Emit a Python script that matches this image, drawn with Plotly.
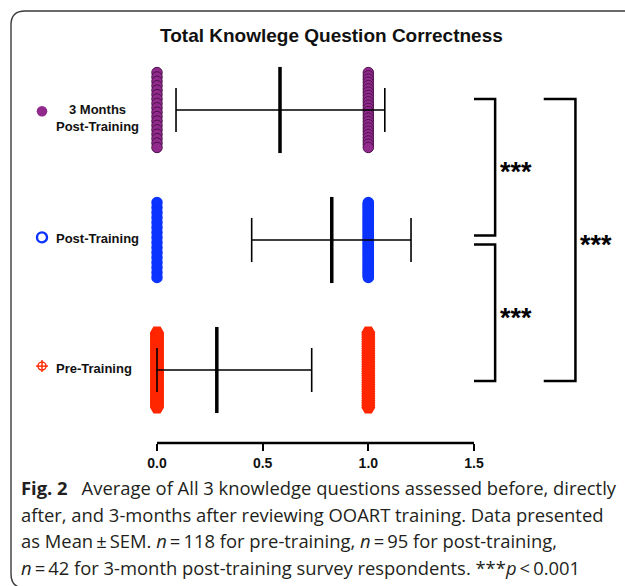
import numpy as np
import plotly.graph_objects as go

# ---------------------------------------------------------------- data
groups = ["Pre-Training", "Post-Training", "3 Months<br>Post-Training"]
row_pos = [1, 2, 3]
score_levels = [0.0, 1.0]
n_zero = [84, 16, 18]          # respondents averaging 0 correct
n_one = [34, 79, 24]           # respondents averaging 1 correct
means = [0.283, 0.827, 0.582]
err_lo = [0.0, 0.448, 0.090]
err_hi = [0.732, 1.202, 1.078]
tick_vals = [0.0, 0.5, 1.0, 1.5]
tick_text = ["0.0", "0.5", "1.0", "1.5"]
# (upper row, lower row, label, bracket x-left, bracket x-right) in x units
comparisons = [
    (3, 2, "***", 1.50, 1.60),
    (2, 1, "***", 1.50, 1.60),
    (3, 1, "***", 1.83, 1.98),
]

# ---------------------------------------------------------------- styles
W, H = 625, 586
FONT = "Liberation Sans, Arial, sans-serif"
CAP_FONT = "Open Sans, Noto Sans, sans-serif"
colors = ["#FF2600", "#0B33FF", "#922A8E"]
X_RANGE = [-0.1, 1.6]
X_DOM = [135.87 / W, 495.13 / W]
Y_RANGE = [0.4385, 3.3846]
Y_DOM = [1 - 443 / H, 1 - 60 / H]
BAND = 0.288  # half-height of each stacked column, y units


def xpaper(x):
    return X_DOM[0] + (x - X_RANGE[0]) / (X_RANGE[1] - X_RANGE[0]) * (X_DOM[1] - X_DOM[0])


col_markers = [
    dict(symbol="hexagon2", size=14, color=colors[0], line=dict(width=0)),
    dict(symbol="circle-open", size=6.5, color=colors[1], line=dict(width=5)),
    dict(symbol="circle", size=10.5, color=colors[2], line=dict(width=1, color="#4E124B")),
]

fig = go.Figure()

# stacked individual responses at each score level
for i, (row, nz, no) in enumerate(zip(row_pos, n_zero, n_one)):
    for level, k in zip(score_levels, (nz, no)):
        ys = row + np.linspace(BAND, -BAND, k)
        fig.add_trace(go.Scatter(
            x=[level] * k, y=ys, mode="markers",
            marker=col_markers[i], cliponaxis=False,
            showlegend=False, hoverinfo="skip",
        ))

# mean line with error bars
fig.add_trace(go.Scatter(
    x=means, y=row_pos, mode="markers",
    marker=dict(symbol="line-ns", size=61.5, color="black",
                line=dict(width=3.5, color="black")),
    error_x=dict(type="data", symmetric=False,
                 array=[h - m for h, m in zip(err_hi, means)],
                 arrayminus=[m - l for m, l in zip(means, err_lo)],
                 color="black", thickness=1.6, width=22),
    cliponaxis=False, showlegend=False,
))

shapes = []
annotations = []

# frame around the figure panel
fx = lambda p: p / W
fy = lambda p: 1 - p / H
frame = (f"M {fx(640)},{fy(11)} L {fx(25)},{fy(11)} Q {fx(11)},{fy(11)} {fx(11)},{fy(25)} "
         f"L {fx(11)},{fy(574)} Q {fx(11)},{fy(588)} {fx(25)},{fy(588)} L {fx(640)},{fy(588)}")
shapes.append(dict(type="path", xref="paper", yref="paper", path=frame,
                   line=dict(color="#3a3a3a", width=1.4)))

# x axis line from first to last tick
shapes.append(dict(type="line", xref="x", yref="paper",
                   x0=tick_vals[0], x1=tick_vals[-1], y0=Y_DOM[0], y1=Y_DOM[0],
                   line=dict(color="black", width=2.5)))

# significance brackets
for top, bot, label, xl, xr in comparisons:
    gap = 0.035 if abs(top - bot) == 1 else 0.0
    y_top = top + 0.085 if top == 3 else top - gap
    y_bot = bot - 0.085 if bot == 1 else bot + gap
    path = (f"M {xpaper(xl)},{y_top} L {xpaper(xr)},{y_top} "
            f"L {xpaper(xr)},{y_bot} L {xpaper(xl)},{y_bot}")
    shapes.append(dict(type="path", xref="paper", yref="y", path=path,
                       line=dict(color="black", width=2.5)))
    annotations.append(dict(
        x=xpaper(xr) + 3 / W, y=(y_top + y_bot) / 2 - 0.04, xref="paper", yref="y",
        text=f"<b>{label}</b>", showarrow=False, xanchor="left", yanchor="middle",
        font=dict(family=FONT, size=27, color="black"),
    ))

# row labels with their symbols
sym_x = 42 / W
sym_dy = [0.03, 0.02, -0.01]
for i, row in enumerate(row_pos):
    yc = row + sym_dy[i]
    if i == 2:
        shapes.append(dict(type="circle", xref="paper", yref="y", xsizemode="pixel",
                           ysizemode="pixel", xanchor=sym_x, yanchor=yc,
                           x0=-5.3, x1=5.3, y0=-5.3, y1=5.3,
                           fillcolor=colors[2], line=dict(width=0)))
    elif i == 1:
        shapes.append(dict(type="circle", xref="paper", yref="y", xsizemode="pixel",
                           ysizemode="pixel", xanchor=sym_x, yanchor=yc,
                           x0=-5, x1=5, y0=-5, y1=5,
                           line=dict(color=colors[1], width=2.4)))
    else:
        shapes.append(dict(type="circle", xref="paper", yref="y", xsizemode="pixel",
                           ysizemode="pixel", xanchor=sym_x, yanchor=yc,
                           x0=-4, x1=4, y0=-4, y1=4,
                           line=dict(color=colors[0], width=1.4)))
        for seg in ((-6, 6, 0, 0), (0, 0, -6, 6)):
            shapes.append(dict(type="line", xref="paper", yref="y", xsizemode="pixel",
                               ysizemode="pixel", xanchor=sym_x, yanchor=yc,
                               x0=seg[0], x1=seg[1], y0=seg[2], y1=seg[3],
                               line=dict(color=colors[0], width=1.4)))

label_dy = [0.008, 0.015, -0.06]
for i, (row, name) in enumerate(zip(row_pos, groups)):
    annotations.append(dict(
        x=54 / W, y=row + label_dy[i], xref="paper", yref="y",
        text=f"<b>{name}</b>", showarrow=False, xanchor="left", yanchor="middle",
        align="center", font=dict(family=FONT, size=13, color="#111111"),
    ))

# chart title
annotations.append(dict(
    x=331 / W, y=1 - 35 / H, xref="paper", yref="paper",
    text="<b>Total Knowlege Question Correctness</b>", showarrow=False,
    xanchor="center", yanchor="middle",
    font=dict(family=FONT, size=19, color="#111111"),
))

# figure caption
cap_lines = [
    "<b>Fig. 2</b>\u2002 Average of All 3 knowledge questions assessed before, directly",
    "after, and 3-months after reviewing OOART training. Data presented",
    "as Mean\u2009\u00b1\u2009SEM. <i>n</i>\u2009=\u2009118 for pre-training, "
    "<i>n</i>\u2009=\u200995 for post-training,",
    "<i>n</i>\u2009=\u200942 for 3-month post-training survey respondents. "
    "***<i>p</i>\u2009&lt;\u20090.001",
]
cap_y = [487, 514, 540.5, 567]
for txt, yp in zip(cap_lines, cap_y):
    annotations.append(dict(
        x=19 / W, y=1 - yp / H, xref="paper", yref="paper", text=txt,
        showarrow=False, xanchor="left", yanchor="middle",
        font=dict(family=CAP_FONT, size=18.4, color="#231F20"),
    ))

fig.update_layout(
    width=W, height=H, autosize=False,
    margin=dict(l=0, r=0, t=0, b=0),
    paper_bgcolor="white", plot_bgcolor="white",
    shapes=shapes, annotations=annotations,
    xaxis=dict(domain=X_DOM, range=X_RANGE, showgrid=False, zeroline=False,
               showline=False, tickmode="array", tickvals=tick_vals,
               ticktext=tick_text, ticks="outside", ticklen=7, tickwidth=2,
               tickcolor="black",
               tickfont=dict(family=FONT, size=14, color="#111111", weight=700)),
    yaxis=dict(domain=Y_DOM, range=Y_RANGE, visible=False),
)

fig.write_html("out.html")
